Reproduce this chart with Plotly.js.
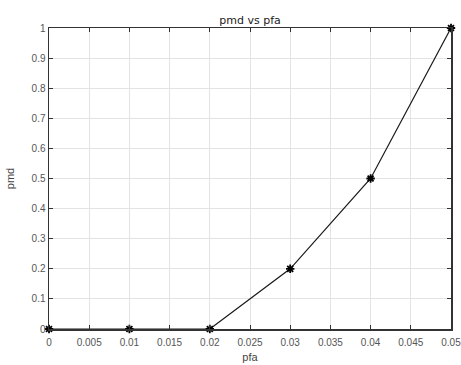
<!DOCTYPE html>
<html>
<head>
<script src="https://cdn.plot.ly/plotly-3.0.1.min.js"></script>
<style>html,body{margin:0;padding:0;background:#fff;}#chart{width:461px;height:365px;}</style>
</head>
<body>
<div id="chart"></div>
<script>
const pfa = [0, 0.01, 0.02, 0.03, 0.04, 0.05];
const pmd = [0, 0, 0, 0.2, 0.5, 1];
const xTicks = [0, 0.005, 0.01, 0.015, 0.02, 0.025, 0.03, 0.035, 0.04, 0.045, 0.05];
const xTickLabels = ["0", "0.005", "0.01", "0.015", "0.02", "0.025", "0.03", "0.035", "0.04", "0.045", "0.05"];
const yTicks = [0, 0.1, 0.2, 0.3, 0.4, 0.5, 0.6, 0.7, 0.8, 0.9, 1];
const yTickLabels = ["0", "0.1", "0.2", "0.3", "0.4", "0.5", "0.6", "0.7", "0.8", "0.9", "1"];

const trace = {
  x: pfa, y: pmd, type: 'scatter', mode: 'lines+markers',
  line: {color: '#1a1a1a', width: 1.2},
  marker: {symbol: 'asterisk-open', size: 7, color: '#000', line: {color: '#000', width: 1.8}},
  cliponaxis: false
};
const axisCommon = {
  showline: true, linecolor: '#333', linewidth: 1.5, mirror: 'ticks',
  ticks: 'inside', ticklen: 4, tickcolor: '#333', tickwidth: 1,
  showgrid: true, gridcolor: '#e3e3e3', gridwidth: 1, zeroline: false,
  ticklabeloverflow: 'allow',
  tickfont: {family: 'Liberation Sans, Arial, sans-serif', size: 10, color: '#555'}
};
const layout = {
  width: 461, height: 365,
  margin: {l: 49, r: 10, t: 28, b: 36},
  paper_bgcolor: '#fff', plot_bgcolor: '#fff',
  showlegend: false,
  title: {text: 'pmd vs pfa', x: 0.5, xref: 'paper', y: 1, yref: 'paper', yanchor: 'bottom', pad: {b: 4},
          font: {family: 'DejaVu Sans, Arial, sans-serif', size: 11, color: '#222'}},
  xaxis: Object.assign({}, axisCommon, {
    range: [0, 0.05], tickmode: 'array', tickvals: xTicks, ticktext: xTickLabels,
    ticklabelstandoff: 3,
    title: {text: 'pfa', standoff: 7, font: {family: 'Liberation Sans, Arial, sans-serif', size: 11, color: '#444'}}
  }),
  yaxis: Object.assign({}, axisCommon, {
    range: [0, 1], tickmode: 'array', tickvals: yTicks, ticktext: yTickLabels,
    title: {text: 'pmd', standoff: 14, font: {family: 'Liberation Sans, Arial, sans-serif', size: 11, color: '#444'}}
  })
};
Plotly.newPlot('chart', [trace], layout, {staticPlot: true, displayModeBar: false});
</script>
</body>
</html>
